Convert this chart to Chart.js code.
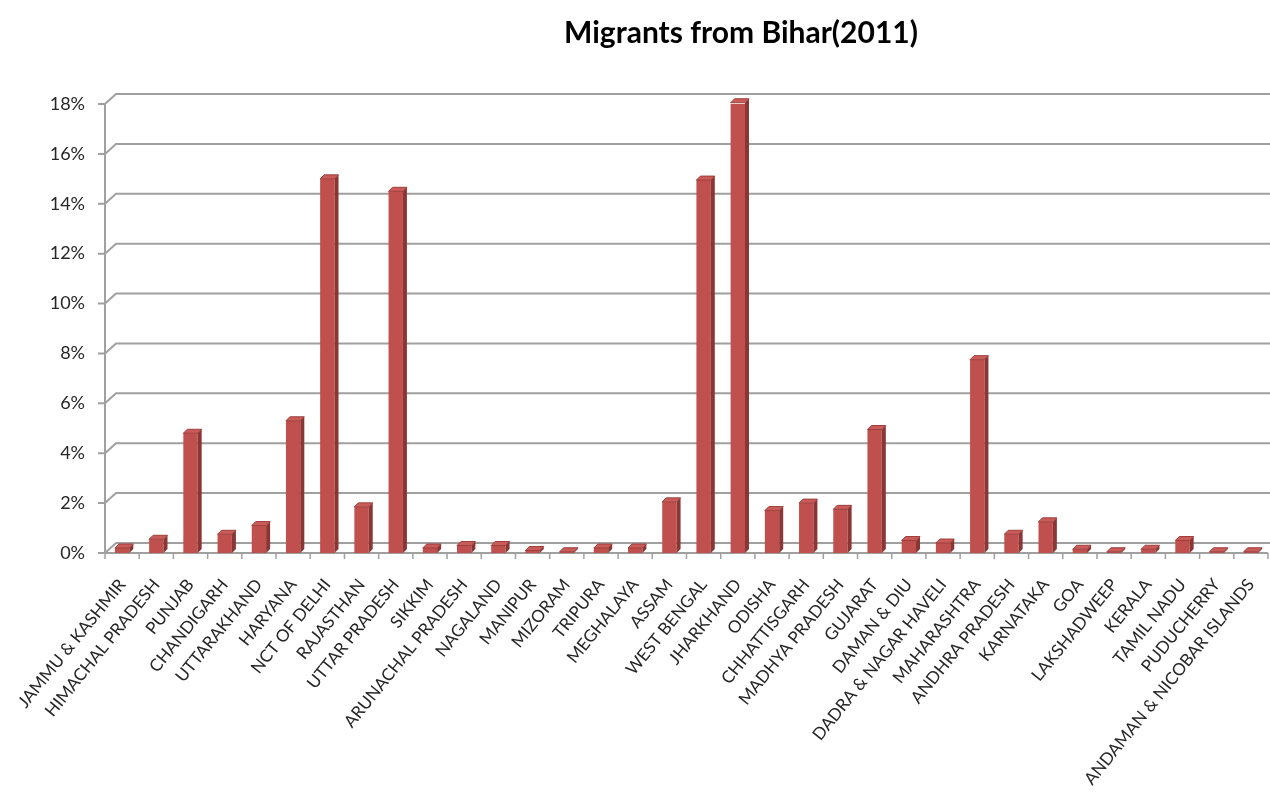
<!DOCTYPE html>
<html>
<head>
<meta charset="utf-8">
<script src="https://cdn.jsdelivr.net/npm/chart.js@4.4.1/dist/chart.umd.min.js"></script>
<style>
  html, body { margin: 0; padding: 0; background: #fff; }
  #wrap { width: 1270px; height: 799px; }
</style>
</head>
<body>
<div id="wrap"><canvas id="chart"></canvas></div>
<script>
// share of migrants from Bihar by destination state (%)
const states = [
  'JAMMU & KASHMIR', 'HIMACHAL PRADESH', 'PUNJAB', 'CHANDIGARH', 'UTTARAKHAND',
  'HARYANA', 'NCT OF DELHI', 'RAJASTHAN', 'UTTAR PRADESH', 'SIKKIM',
  'ARUNACHAL PRADESH', 'NAGALAND', 'MANIPUR', 'MIZORAM', 'TRIPURA',
  'MEGHALAYA', 'ASSAM', 'WEST BENGAL', 'JHARKHAND', 'ODISHA',
  'CHHATTISGARH', 'MADHYA PRADESH', 'GUJARAT', 'DAMAN & DIU', 'DADRA & NAGAR HAVELI',
  'MAHARASHTRA', 'ANDHRA PRADESH', 'KARNATAKA', 'GOA', 'LAKSHADWEEP',
  'KERALA', 'TAMIL NADU', 'PUDUCHERRY', 'ANDAMAN & NICOBAR ISLANDS'
]
const shares = [
  0.2, 0.55, 4.8, 0.75, 1.1,
  5.3, 15.0, 1.85, 14.5, 0.2,
  0.3, 0.3, 0.1, 0.05, 0.2,
  0.2, 2.05, 14.95, 18.05, 1.7,
  2.0, 1.75, 4.95, 0.5, 0.4,
  7.75, 0.75, 1.25, 0.15, 0.05,
  0.15, 0.5, 0.05, 0.05
]
const yTicks = [0, 2, 4, 6, 8, 10, 12, 14, 16, 18]
const chartTitle = 'Migrants from Bihar(2011)'

const barFront = '#C0504D'
const barSide = '#8B3634'
const barTop = '#C95C59'
const gridColor = '#A0A0A0'
const textColor = '#262626'
const WALL_DX = 11, WALL_DY = 10   // back wall offset
const BAR_DX = 4, BAR_DY = 4       // bar depth

// back wall grid + floor, drawn behind the bars
const wallPlugin = {
  id: 'wall',
  beforeDatasetsDraw(chart) {
    const { ctx, chartArea: a, scales: { x, y } } = chart
    ctx.save()
    ctx.strokeStyle = gridColor
    ctx.lineWidth = 2
    yTicks.forEach(v => {
      const py = y.getPixelForValue(v)
      ctx.beginPath()
      ctx.moveTo(a.left - 7, py)
      ctx.lineTo(a.left, py)
      ctx.lineTo(a.left + WALL_DX, py - WALL_DY)
      ctx.lineTo(chart.width, py - WALL_DY)
      ctx.stroke()
    })
    // front axes
    ctx.beginPath()
    ctx.moveTo(a.left, y.getPixelForValue(18))
    ctx.lineTo(a.left, a.bottom)
    ctx.lineTo(a.right, a.bottom)
    ctx.stroke()
    // category separators
    const step = x.width / states.length
    ctx.lineWidth = 1.5
    for (let i = 0; i <= states.length; i++) {
      const px = a.left + i * step
      ctx.beginPath()
      ctx.moveTo(px, a.bottom)
      ctx.lineTo(px, a.bottom + 6)
      ctx.stroke()
    }
    ctx.restore()
  },
  afterDatasetsDraw(chart) {
    const { ctx } = chart
    const meta = chart.getDatasetMeta(0)
    ctx.save()
    meta.data.forEach(bar => {
      const { x, y, base, width } = bar.getProps(['x', 'y', 'base', 'width'], true)
      const l = x - width / 2, r = x + width / 2
      // side face
      ctx.fillStyle = barSide
      ctx.beginPath()
      ctx.moveTo(r, y)
      ctx.lineTo(r + BAR_DX, y - BAR_DY)
      ctx.lineTo(r + BAR_DX, base - BAR_DY)
      ctx.lineTo(r, base)
      ctx.closePath()
      ctx.fill()
      // top face
      ctx.fillStyle = barTop
      ctx.beginPath()
      ctx.moveTo(l, y)
      ctx.lineTo(l + BAR_DX, y - BAR_DY)
      ctx.lineTo(r + BAR_DX, y - BAR_DY)
      ctx.lineTo(r, y)
      ctx.closePath()
      ctx.fill()
      ctx.strokeStyle = '#9E3F3C'
      ctx.lineWidth = 1
      ctx.stroke()
    })
    ctx.restore()
  },
  afterDraw(chart) {
    const { ctx } = chart
    ctx.save()
    ctx.fillStyle = '#000'
    ctx.font = "bold 30px Lato, sans-serif"
    ctx.textAlign = 'center'
    ctx.textBaseline = 'middle'
    ctx.fillText(chartTitle, 741, 33)
    ctx.restore()
  }
}

new Chart(document.getElementById('chart'), {
  type: 'bar',
  data: {
    labels: states,
    datasets: [{
      data: shares,
      backgroundColor: barFront,
      borderWidth: 0,
      categoryPercentage: 1,
      barPercentage: 0.42
    }]
  },
  options: {
    responsive: true,
    maintainAspectRatio: false,
    animation: false,
    layout: { padding: { top: 104, right: 2, left: 0, bottom: 0 } },
    plugins: {
      legend: { display: false },
      tooltip: { enabled: false },
      title: { display: false }
    },
    scales: {
      x: {
        grid: { display: false, drawTicks: false },
        border: { display: false },
        ticks: {
          autoSkip: false,
          minRotation: 51,
          maxRotation: 51,
          padding: 22,
          color: textColor,
          font: { family: 'Lato', size: 17 }
        },
        afterFit(scale) {
          // keep the plot edge fixed; long rotated labels may run past it
          scale.height = 246
          scale.paddingLeft = 0
          scale.paddingRight = 0
        }
      },
      y: {
        min: 0,
        max: 18,
        grid: { display: false, drawTicks: false },
        border: { display: false },
        ticks: {
          stepSize: 2,
          padding: 20,
          color: textColor,
          font: { family: 'Lato', size: 18 },
          callback: v => v + '%'
        },
        afterFit(scale) { scale.width = 105 }
      }
    }
  },
  plugins: [wallPlugin]
})
</script>
</body>
</html>
